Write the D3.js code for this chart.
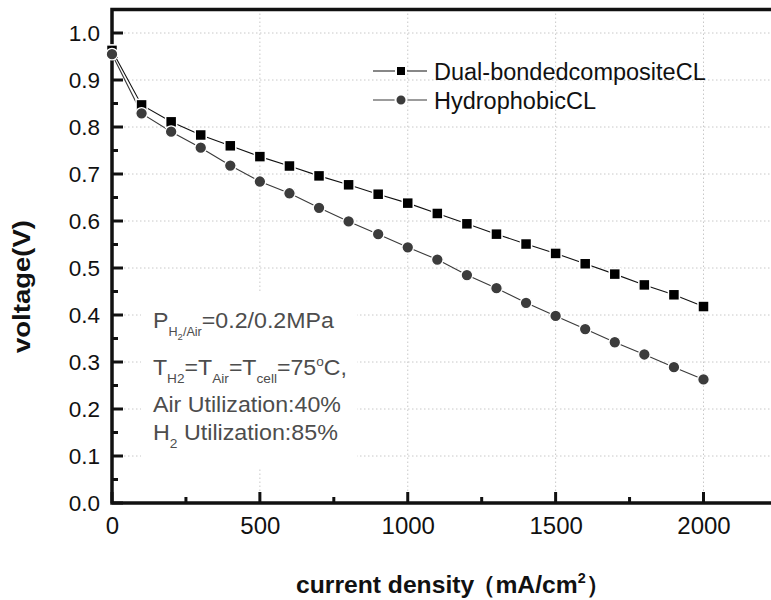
<!DOCTYPE html>
<html>
<head>
  <meta charset="utf-8">
  <title>Polarization curves</title>
  <script src="https://d3js.org/d3.v7.min.js"></script>
  <style>
    body, html { margin: 0; padding: 0; background: #fff; overflow: hidden; }
    svg { display: block; font-family: "Liberation Sans", Arial, sans-serif; }
  </style>
</head>
<body>
  <svg id="chart" width="771" height="600"></svg>
  <script>
    // data
    var currentDensity = [0, 100, 200, 300, 400, 500, 600, 700, 800, 900, 1000,
                          1100, 1200, 1300, 1400, 1500, 1600, 1700, 1800, 1900, 2000];
    var dualBonded = [0.963, 0.847, 0.811, 0.783, 0.760, 0.737, 0.717, 0.696, 0.677, 0.657, 0.638,
                      0.616, 0.594, 0.572, 0.551, 0.531, 0.509, 0.487, 0.464, 0.443, 0.418];
    var hydrophobic = [0.955, 0.829, 0.790, 0.756, 0.718, 0.684, 0.659, 0.628, 0.599, 0.572, 0.544,
                       0.518, 0.485, 0.457, 0.426, 0.398, 0.370, 0.342, 0.316, 0.289, 0.263];
    var seriesNames = ["Dual-bondedcompositeCL", "HydrophobicCL"];
    var xTicks = [0, 500, 1000, 1500, 2000];
    var xMinorTicks = [250, 750, 1250, 1750];
    var yTicks = [0, 0.1, 0.2, 0.3, 0.4, 0.5, 0.6, 0.7, 0.8, 0.9, 1.0];
    var yMinorTicks = [0.05, 0.15, 0.25, 0.35, 0.45, 0.55, 0.65, 0.75, 0.85, 0.95];

    var svg = d3.select("#chart");

    var plotLeft = 112, plotBottom = 503, plotTop = 9.5, plotRight = 781;
    var xScale = d3.scaleLinear().domain([0, 2000]).range([plotLeft, 703.5]);
    var yScale = d3.scaleLinear().domain([0, 1.0]).range([plotBottom, 33]);

    // stretch a text element horizontally so it covers a given width (the original is a bit condensed/wide)
    function fitWidth(sel, x, y, width, rotate) {
      var w = sel.node().getComputedTextLength();
      var k = width / w;
      sel.attr("x", 0).attr("y", 0)
        .attr("transform", "translate(" + x + "," + y + ")" + (rotate ? " rotate(-90)" : "") + " scale(" + k + ",1)");
    }

    // gridlines (dotted)
    var grid = svg.append("g").attr("class", "grid")
      .attr("stroke", "#c8c8c8").attr("stroke-width", 1)
      .attr("stroke-dasharray", "1.5,2.5");
    grid.selectAll(".hg")
      .data(yTicks.filter(function(d) { return d > 0; }))
      .enter().append("line")
      .attr("x1", plotLeft).attr("x2", plotRight)
      .attr("y1", function(d) { return yScale(d); })
      .attr("y2", function(d) { return yScale(d); });
    grid.selectAll(".vg")
      .data(xTicks.filter(function(d) { return d > 0; }))
      .enter().append("line")
      .attr("y1", plotTop).attr("y2", plotBottom)
      .attr("x1", function(d) { return xScale(d); })
      .attr("x2", function(d) { return xScale(d); });

    // white box behind the conditions text
    svg.append("rect")
      .attr("x", 141).attr("y", 291)
      .attr("width", 216).attr("height", 178)
      .attr("fill", "#fff");

    // axes labels
    var yAxis = d3.axisLeft(yScale).tickValues(yTicks).tickSize(0).tickPadding(12)
      .tickFormat(d3.format(".1f"));
    var gy = svg.append("g").attr("transform", "translate(" + plotLeft + ",0)").call(yAxis);
    gy.select(".domain").remove();
    gy.selectAll("text").style("font-size", "22.5px").attr("fill", "#111");

    var xAxis = d3.axisBottom(xScale).tickValues(xTicks).tickSize(0).tickPadding(14)
      .tickFormat(d3.format("d"));
    var gx = svg.append("g").attr("transform", "translate(0," + plotBottom + ")").call(xAxis);
    gx.select(".domain").remove();
    gx.selectAll("text").style("font-size", "24px").attr("fill", "#111");

    // inward ticks
    var ticks = svg.append("g").attr("stroke", "#111").attr("stroke-width", 3);
    ticks.selectAll(".ytm").data(yTicks).enter().append("line")
      .attr("x1", plotLeft).attr("x2", plotLeft + 11)
      .attr("y1", function(d) { return yScale(d); }).attr("y2", function(d) { return yScale(d); });
    ticks.selectAll(".ytn").data(yMinorTicks).enter().append("line")
      .attr("x1", plotLeft).attr("x2", plotLeft + 6)
      .attr("y1", function(d) { return yScale(d); }).attr("y2", function(d) { return yScale(d); });
    ticks.selectAll(".xtm").data(xTicks).enter().append("line")
      .attr("y1", plotBottom).attr("y2", plotBottom - 11)
      .attr("x1", function(d) { return xScale(d); }).attr("x2", function(d) { return xScale(d); });
    ticks.selectAll(".xtn").data(xMinorTicks).enter().append("line")
      .attr("y1", plotBottom).attr("y2", plotBottom - 6)
      .attr("x1", function(d) { return xScale(d); }).attr("x2", function(d) { return xScale(d); });

    // frame
    svg.append("path")
      .attr("d", "M" + plotRight + "," + plotTop + "H" + plotLeft + "V" + plotBottom + "H" + plotRight)
      .attr("fill", "none").attr("stroke", "#111").attr("stroke-width", 3.5);

    // series
    var line = d3.line()
      .x(function(d) { return xScale(d[0]); })
      .y(function(d) { return yScale(d[1]); });

    var dualData = currentDensity.map(function(c, i) { return [c, dualBonded[i]]; });
    var hydroData = currentDensity.map(function(c, i) { return [c, hydrophobic[i]]; });

    svg.append("path").datum(dualData).attr("d", line)
      .attr("fill", "none").attr("stroke", "#111").attr("stroke-width", 1.1);
    svg.append("path").datum(hydroData).attr("d", line)
      .attr("fill", "none").attr("stroke", "#3a3a3a").attr("stroke-width", 1.1);

    svg.selectAll(".sq").data(dualData).enter().append("rect")
      .attr("x", function(d) { return xScale(d[0]) - 5.5; })
      .attr("y", function(d) { return yScale(d[1]) - 5.5; })
      .attr("width", 11).attr("height", 11)
      .attr("fill", "#000").attr("stroke", "#fff").attr("stroke-width", 1.5);

    svg.selectAll(".ci").data(hydroData).enter().append("circle")
      .attr("cx", function(d) { return xScale(d[0]); })
      .attr("cy", function(d) { return yScale(d[1]); })
      .attr("r", 5.8)
      .attr("fill", "#3c3c3c").attr("stroke", "#fff").attr("stroke-width", 1.3);

    // legend
    var legend = svg.append("g");
    var legY = [71, 100];
    legend.selectAll(".ll").data(legY).enter().append("line")
      .attr("x1", 373).attr("x2", 427)
      .attr("y1", function(d) { return d; }).attr("y2", function(d) { return d; })
      .attr("stroke", function(d, i) { return i === 0 ? "#111" : "#3a3a3a"; })
      .attr("stroke-width", 1.1);
    legend.append("rect").attr("x", 396).attr("y", legY[0] - 5).attr("width", 10).attr("height", 10)
      .attr("fill", "#000").attr("stroke", "#fff").attr("stroke-width", 2);
    legend.append("circle").attr("cx", 401).attr("cy", legY[1]).attr("r", 5.5)
      .attr("fill", "#3c3c3c").attr("stroke", "#fff").attr("stroke-width", 2);
    legend.selectAll(".lt").data(seriesNames).enter().append("text")
      .attr("x", 434).attr("y", function(d, i) { return legY[i] + 8.5; })
      .style("font-size", "23.5px").attr("fill", "#111")
      .text(function(d) { return d; });

    // conditions text
    var note = svg.append("g").attr("fill", "#4d4d4d").style("font-size", "22px");
    var t1 = note.append("text");
    t1.append("tspan").text("P");
    t1.append("tspan").attr("dy", 8).style("font-size", "12px").text("H");
    t1.append("tspan").attr("dy", 4).style("font-size", "9px").text("2");
    t1.append("tspan").attr("dy", -4).style("font-size", "12px").text("/Air");
    t1.append("tspan").attr("dy", -8).text("=0.2/0.2MPa");
    fitWidth(t1, 153, 328, 181);

    var t2 = note.append("text");
    t2.append("tspan").text("T");
    t2.append("tspan").attr("dy", 8).style("font-size", "13px").text("H2");
    t2.append("tspan").attr("dy", -8).text("=T");
    t2.append("tspan").attr("dy", 8).style("font-size", "13px").text("Air");
    t2.append("tspan").attr("dy", -8).text("=T");
    t2.append("tspan").attr("dy", 8).style("font-size", "13px").text("cell");
    t2.append("tspan").attr("dy", -8).text("=75");
    t2.append("tspan").attr("dy", -9).style("font-size", "13px").text("o");
    t2.append("tspan").attr("dy", 9).text("C,");
    fitWidth(t2, 153, 375, 194);

    var t3 = note.append("text").text("Air Utilization:40%");
    fitWidth(t3, 153, 412, 188);

    var t4 = note.append("text");
    t4.append("tspan").text("H");
    t4.append("tspan").attr("dy", 8).style("font-size", "13px").text("2");
    t4.append("tspan").attr("dy", -8).text(" Utilization:85%");
    fitWidth(t4, 153, 440, 185);

    // axis titles
    var xt = svg.append("text")
      .style("font-size", "24px").style("font-weight", "bold").attr("fill", "#111");
    xt.append("tspan").text("current density");
    xt.append("tspan").attr("dx", -3).text("（mA/cm");
    xt.append("tspan").attr("dy", -10).style("font-size", "14px").text("2");
    xt.append("tspan").attr("dy", 10).text("）");
    fitWidth(xt, 296, 593, 318);

    var yt = svg.append("text")
      .style("font-size", "23px").style("font-weight", "bold").attr("fill", "#111")
      .text("voltage(V)");
    fitWidth(yt, 30, 353, 133, true);
  </script>
</body>
</html>
